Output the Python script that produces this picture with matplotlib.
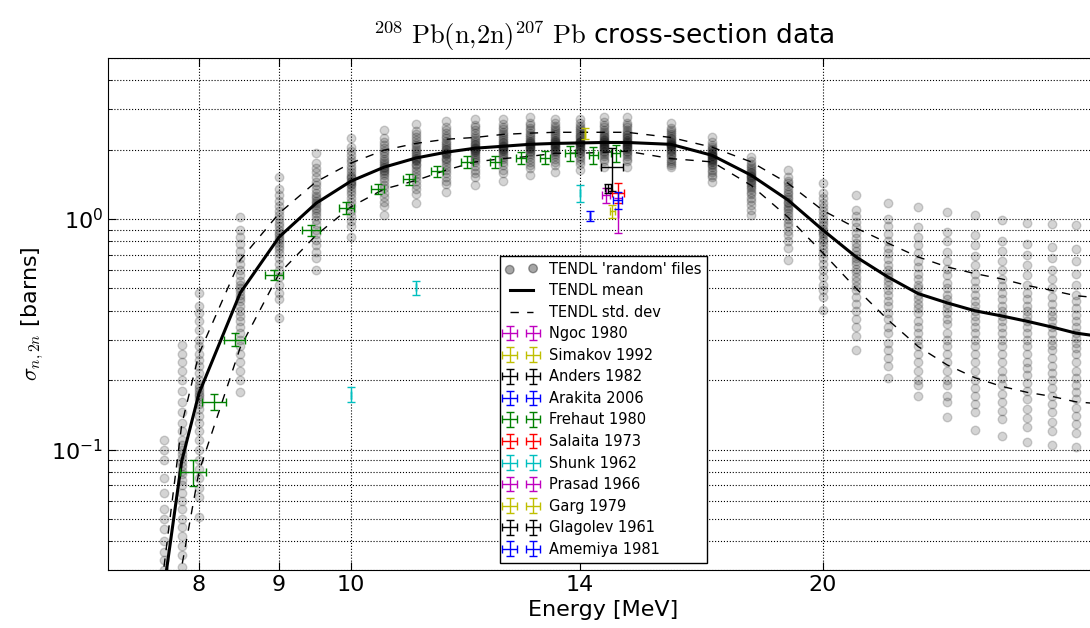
import numpy as np
import matplotlib
matplotlib.use('Agg')
import matplotlib.pyplot as plt
from matplotlib.ticker import FixedLocator, NullLocator, NullFormatter, FixedFormatter

plt.rcParams['mathtext.fontset'] = 'cm'
plt.rcParams['axes.unicode_minus'] = False

# TENDL energy grid (MeV)
energies = [7.6, 7.8, 8.0, 8.5, 9.0, 9.5, 10.0, 10.5, 11.0, 11.5, 12.0, 12.5,
            13.0, 13.5, 14.0, 14.5, 15.0, 16.0, 17.0, 18.0, 19.0, 20.0, 21.0,
            22.0, 23.0, 24.0, 25.0, 26.0, 27.0, 28.0, 29.0, 30.0]

# TENDL mean and mean +/- std. dev (barns)
tendl_mean = [0.025, 0.089, 0.175, 0.478, 0.836, 1.17, 1.46, 1.68, 1.84, 1.95,
              2.03, 2.07, 2.11, 2.13, 2.14, 2.15, 2.15, 2.11, 1.89, 1.55, 1.21,
              0.896, 0.685, 0.561, 0.475, 0.433, 0.40, 0.38, 0.36, 0.34, 0.32, 0.31]
tendl_upper = [0.031, 0.128, 0.26, 0.665, 1.06, 1.45, 1.75, 1.99, 2.13, 2.22,
               2.26, 2.33, 2.36, 2.38, 2.38, 2.38, 2.38, 2.26, 2.05, 1.77, 1.43,
               1.09, 0.914, 0.787, 0.685, 0.62, 0.58, 0.55, 0.515, 0.49, 0.465, 0.455]
tendl_lower = [0.012, 0.031, 0.08, 0.277, 0.58, 0.85, 1.13, 1.35, 1.47, 1.63,
               1.77, 1.83, 1.87, 1.93, 1.93, 1.95, 1.97, 1.83, 1.77, 1.40, 1.02,
               0.713, 0.50, 0.366, 0.28, 0.233, 0.205, 0.188, 0.177, 0.17, 0.161, 0.158]

# TENDL 'random' files, values read per energy (barns)
tendl_random = [
    [0.11, 0.1, 0.09, 0.075, 0.065, 0.055, 0.05, 0.045, 0.04, 0.036, 0.033, 0.03, 0.028, 0.026, 0.024, 0.022, 0.02],
    [0.285, 0.26, 0.24, 0.22, 0.2, 0.18, 0.16, 0.145, 0.13, 0.12, 0.11, 0.105, 0.1, 0.096, 0.092, 0.088,
     0.085, 0.081, 0.078, 0.074, 0.07, 0.065, 0.06, 0.055, 0.05, 0.046, 0.042, 0.038, 0.035, 0.031, 0.028],
    [0.48, 0.42, 0.39, 0.36, 0.33, 0.3, 0.28, 0.26, 0.245, 0.23, 0.215, 0.2, 0.19, 0.185, 0.18, 0.175,
     0.17, 0.165, 0.158, 0.15, 0.14, 0.13, 0.12, 0.11, 0.1, 0.09, 0.082, 0.075, 0.068, 0.062, 0.051],
    [1.02, 0.9, 0.84, 0.78, 0.73, 0.68, 0.64, 0.6, 0.57, 0.54, 0.52, 0.5, 0.485, 0.47, 0.455, 0.44,
     0.42, 0.4, 0.38, 0.36, 0.34, 0.32, 0.3, 0.28, 0.26, 0.24, 0.22, 0.2, 0.177],
    [1.52, 1.35, 1.27, 1.2, 1.14, 1.08, 1.04, 1.0, 0.96, 0.93, 0.9, 0.87, 0.85, 0.83, 0.81, 0.79,
     0.765, 0.74, 0.71, 0.68, 0.64, 0.6, 0.56, 0.52, 0.48, 0.45, 0.373],
    [1.93, 1.75, 1.67, 1.6, 1.52, 1.45, 1.4, 1.35, 1.3, 1.26, 1.23, 1.2, 1.17, 1.15, 1.12, 1.1,
     1.06, 1.03, 0.99, 0.95, 0.9, 0.86, 0.81, 0.77, 0.72, 0.68, 0.60],
    [2.24, 2.05, 1.97, 1.9, 1.83, 1.76, 1.7, 1.65, 1.6, 1.56, 1.53, 1.5, 1.47, 1.45, 1.42, 1.4,
     1.36, 1.33, 1.28, 1.24, 1.19, 1.14, 1.08, 1.03, 0.98, 0.93, 0.836],
    [2.43, 2.25, 2.17, 2.1, 2.04, 1.98, 1.93, 1.88, 1.83, 1.79, 1.75, 1.72, 1.69, 1.67, 1.64, 1.62,
     1.58, 1.55, 1.5, 1.46, 1.41, 1.36, 1.3, 1.25, 1.19, 1.14, 1.04],
    [2.58, 2.42, 2.34, 2.27, 2.2, 2.14, 2.09, 2.04, 1.99, 1.95, 1.91, 1.88, 1.85, 1.83, 1.8, 1.78,
     1.74, 1.71, 1.66, 1.62, 1.57, 1.52, 1.46, 1.41, 1.35, 1.29, 1.18],
    [2.66, 2.5, 2.43, 2.36, 2.3, 2.24, 2.19, 2.14, 2.1, 2.06, 2.02, 1.99, 1.96, 1.94, 1.91, 1.89,
     1.85, 1.82, 1.78, 1.74, 1.69, 1.64, 1.58, 1.53, 1.47, 1.42, 1.31],
    [2.73, 2.57, 2.5, 2.43, 2.36, 2.3, 2.25, 2.2, 2.16, 2.12, 2.09, 2.06, 2.04, 2.02, 2.0, 1.98,
     1.95, 1.92, 1.88, 1.84, 1.8, 1.76, 1.7, 1.64, 1.58, 1.52, 1.40],
    [2.73, 2.58, 2.51, 2.45, 2.39, 2.34, 2.29, 2.24, 2.2, 2.16, 2.13, 2.1, 2.08, 2.06, 2.04, 2.02,
     2.0, 1.97, 1.94, 1.9, 1.86, 1.82, 1.76, 1.71, 1.64, 1.58, 1.46],
    [2.76, 2.62, 2.55, 2.49, 2.43, 2.37, 2.32, 2.27, 2.23, 2.19, 2.16, 2.14, 2.12, 2.1, 2.08, 2.06,
     2.04, 2.01, 1.98, 1.95, 1.91, 1.87, 1.82, 1.77, 1.71, 1.66, 1.55],
    [2.73, 2.6, 2.54, 2.48, 2.43, 2.38, 2.33, 2.29, 2.25, 2.21, 2.18, 2.16, 2.14, 2.12, 2.1, 2.08,
     2.06, 2.03, 2.0, 1.98, 1.95, 1.92, 1.87, 1.83, 1.77, 1.72, 1.60],
    [2.73, 2.6, 2.54, 2.49, 2.44, 2.39, 2.34, 2.3, 2.26, 2.22, 2.19, 2.17, 2.15, 2.13, 2.11, 2.09,
     2.07, 2.04, 2.01, 1.99, 1.96, 1.93, 1.88, 1.84, 1.79, 1.74, 1.63],
    [2.76, 2.63, 2.56, 2.5, 2.44, 2.39, 2.34, 2.3, 2.26, 2.23, 2.2, 2.18, 2.16, 2.14, 2.12, 2.1,
     2.08, 2.06, 2.03, 2.01, 1.98, 1.95, 1.91, 1.87, 1.82, 1.78, 1.68],
    [2.76, 2.62, 2.56, 2.5, 2.44, 2.39, 2.35, 2.31, 2.27, 2.24, 2.21, 2.18, 2.16, 2.14, 2.12, 2.1,
     2.08, 2.06, 2.03, 2.01, 1.98, 1.96, 1.92, 1.88, 1.83, 1.78, 1.68],
    [2.6, 2.48, 2.43, 2.38, 2.33, 2.29, 2.25, 2.22, 2.19, 2.16, 2.14, 2.12, 2.1, 2.09, 2.07, 2.05,
     2.02, 2.0, 1.97, 1.94, 1.9, 1.87, 1.83, 1.79, 1.75, 1.72, 1.68],
    [2.26, 2.15, 2.1, 2.06, 2.02, 1.99, 1.96, 1.94, 1.92, 1.9, 1.88, 1.87, 1.85, 1.83, 1.81, 1.79,
     1.76, 1.74, 1.71, 1.68, 1.64, 1.6, 1.56, 1.52, 1.45],
    [1.86, 1.78, 1.74, 1.7, 1.66, 1.63, 1.6, 1.58, 1.56, 1.54, 1.52, 1.5, 1.48, 1.46, 1.43, 1.41,
     1.38, 1.35, 1.31, 1.28, 1.24, 1.2, 1.15, 1.1, 1.04],
    [1.63, 1.52, 1.47, 1.43, 1.39, 1.35, 1.31, 1.28, 1.25, 1.22, 1.19, 1.17, 1.14, 1.12, 1.09, 1.06,
     1.03, 1.0, 0.96, 0.93, 0.89, 0.85, 0.8, 0.75, 0.665],
    [1.43, 1.3, 1.24, 1.18, 1.13, 1.08, 1.04, 1.0, 0.97, 0.94, 0.91, 0.89, 0.87, 0.85, 0.82, 0.8,
     0.77, 0.74, 0.71, 0.68, 0.64, 0.6, 0.56, 0.52, 0.49, 0.46, 0.404],
    [1.27, 1.1, 1.03, 0.97, 0.92, 0.87, 0.83, 0.79, 0.76, 0.73, 0.7, 0.68, 0.66, 0.64, 0.61, 0.59,
     0.56, 0.54, 0.51, 0.49, 0.46, 0.43, 0.4, 0.37, 0.34, 0.31, 0.271],
    [1.17, 1.0, 0.93, 0.86, 0.8, 0.75, 0.71, 0.67, 0.63, 0.6, 0.58, 0.56, 0.54, 0.52, 0.49, 0.47,
     0.44, 0.42, 0.39, 0.37, 0.34, 0.32, 0.29, 0.27, 0.25, 0.23, 0.205],
    [1.13, 0.92, 0.84, 0.77, 0.71, 0.66, 0.62, 0.58, 0.55, 0.52, 0.5, 0.47, 0.45, 0.43, 0.41, 0.39,
     0.36, 0.34, 0.32, 0.3, 0.28, 0.26, 0.24, 0.22, 0.2, 0.19, 0.17],
    [1.07, 0.88, 0.8, 0.72, 0.66, 0.61, 0.57, 0.53, 0.5, 0.47, 0.45, 0.43, 0.41, 0.39, 0.37, 0.35,
     0.32, 0.3, 0.28, 0.26, 0.24, 0.22, 0.2, 0.19, 0.17, 0.16, 0.139],
    [1.04, 0.85, 0.77, 0.69, 0.63, 0.58, 0.54, 0.5, 0.47, 0.44, 0.42, 0.4, 0.38, 0.36, 0.34, 0.32,
     0.3, 0.28, 0.26, 0.24, 0.22, 0.2, 0.185, 0.17, 0.157, 0.145, 0.122],
    [0.99, 0.8, 0.73, 0.66, 0.6, 0.55, 0.51, 0.48, 0.45, 0.42, 0.4, 0.38, 0.36, 0.34, 0.32, 0.3,
     0.28, 0.26, 0.24, 0.22, 0.205, 0.19, 0.175, 0.16, 0.147, 0.135, 0.114],
    [0.96, 0.78, 0.7, 0.63, 0.57, 0.52, 0.48, 0.45, 0.42, 0.4, 0.38, 0.36, 0.34, 0.32, 0.3, 0.28,
     0.26, 0.24, 0.225, 0.21, 0.195, 0.18, 0.165, 0.15, 0.137, 0.125, 0.108],
    [0.95, 0.76, 0.68, 0.6, 0.55, 0.5, 0.46, 0.43, 0.4, 0.38, 0.36, 0.34, 0.32, 0.3, 0.285, 0.27,
     0.25, 0.23, 0.215, 0.2, 0.185, 0.17, 0.157, 0.145, 0.132, 0.12, 0.105],
    [0.94, 0.74, 0.66, 0.58, 0.52, 0.47, 0.44, 0.41, 0.385, 0.36, 0.34, 0.32, 0.305, 0.29, 0.275, 0.26,
     0.24, 0.22, 0.205, 0.19, 0.178, 0.165, 0.152, 0.14, 0.129, 0.118, 0.103],
    [0.93, 0.72, 0.64, 0.57, 0.51, 0.46, 0.43, 0.4, 0.375, 0.35, 0.33, 0.31, 0.295, 0.28, 0.265, 0.25,
     0.23, 0.21, 0.197, 0.185, 0.172, 0.16, 0.148, 0.136, 0.125, 0.115, 0.10],
]

# experimental data: energy, energy error, cross-section, cross-section error
ngoc_e, ngoc_de, ngoc_xs, ngoc_dxs = [14.55], [0.08], [1.27], [0.1]
simakov_e, simakov_de, simakov_xs, simakov_dxs = [14.1], [0.0], [2.35], [0.13]
anders_e, anders_de, anders_xs, anders_dxs = [14.59], [0.07], [1.36], [0.065]
arakita_e, arakita_de, arakita_xs, arakita_dxs = [14.2], [0.0], [1.03], [0.05]
frehaut_e = [7.93, 8.18, 8.43, 8.93, 9.43, 9.93, 10.4, 10.89, 11.35, 11.86,
             12.36, 12.84, 13.3, 13.8, 14.28, 14.75]
frehaut_de = [0.15, 0.14, 0.135, 0.12, 0.12, 0.11, 0.1, 0.1, 0.1, 0.1,
              0.1, 0.1, 0.1, 0.1, 0.1, 0.1]
frehaut_xs = [0.0796, 0.161, 0.30, 0.573, 0.896, 1.12, 1.35, 1.49, 1.61, 1.77,
              1.77, 1.85, 1.85, 1.93, 1.89, 1.93]
frehaut_dxs = [0.01, 0.013, 0.02, 0.03, 0.05, 0.07, 0.07, 0.08, 0.09, 0.1,
               0.1, 0.11, 0.12, 0.14, 0.16, 0.16]
salaita_e, salaita_de, salaita_xs, salaita_dxs = [14.81], [0.13], [1.30], [0.13]
shunk_e = [10.0, 11.0, 14.0]
shunk_de = [0.0, 0.0, 0.0]
shunk_xs = [0.173, 0.505, 1.30]
shunk_dxs = [0.013, 0.035, 0.11]
prasad_e, prasad_de, prasad_xs, prasad_dxs = [14.8], [0.0], [1.05], [0.18]
garg_e, garg_de, garg_xs, garg_dxs = [14.68], [0.05], [1.08], [0.07]
glagolev_e, glagolev_de, glagolev_xs, glagolev_dxs = [14.68], [0.24], [1.68], [0.36]
amemiya_e, amemiya_de, amemiya_xs, amemiya_dxs = [14.8], [0.1], [1.21], [0.1]

fig = plt.figure(figsize=(10.9, 6.28), dpi=100)
ax = fig.add_axes([108/1090, 58/628, 991/1090, 512/628])

# random files as faint circles
rx = []
ry = []
for e, vals in zip(energies, tendl_random):
    rx += [e] * len(vals)
    ry += vals
ax.scatter(rx, ry, s=38, c='k', alpha=0.17, lw=1, label="TENDL 'random' files", zorder=2)

ax.plot(energies, tendl_mean, 'k-', lw=2.2, label='TENDL mean', zorder=3)
ax.plot(energies, tendl_upper, 'k--', lw=1, dashes=(6, 6), label='TENDL std. dev', zorder=3)
ax.plot(energies, tendl_lower, 'k--', lw=1, dashes=(6, 6), zorder=3)

experiments = [
    ('Ngoc 1980', 'm', ngoc_e, ngoc_de, ngoc_xs, ngoc_dxs),
    ('Simakov 1992', 'y', simakov_e, simakov_de, simakov_xs, simakov_dxs),
    ('Anders 1982', 'k', anders_e, anders_de, anders_xs, anders_dxs),
    ('Arakita 2006', 'b', arakita_e, arakita_de, arakita_xs, arakita_dxs),
    ('Frehaut 1980', 'g', frehaut_e, frehaut_de, frehaut_xs, frehaut_dxs),
    ('Salaita 1973', 'r', salaita_e, salaita_de, salaita_xs, salaita_dxs),
    ('Shunk 1962', 'c', shunk_e, shunk_de, shunk_xs, shunk_dxs),
    ('Prasad 1966', 'm', prasad_e, prasad_de, prasad_xs, prasad_dxs),
    ('Garg 1979', 'y', garg_e, garg_de, garg_xs, garg_dxs),
    ('Glagolev 1961', 'k', glagolev_e, glagolev_de, glagolev_xs, glagolev_dxs),
    ('Amemiya 1981', 'b', amemiya_e, amemiya_de, amemiya_xs, amemiya_dxs),
]
for name, col, e, de, xs, dxs in experiments:
    ax.errorbar(e, xs, xerr=de, yerr=dxs, fmt='none', ecolor=col, elinewidth=1,
                capsize=3, capthick=1, label=name, zorder=4)

ax.set_xscale('log')
ax.set_yscale('log')
ax.set_xlim(7, 30)
ax.set_ylim(0.03, 5)

ax.xaxis.set_major_locator(FixedLocator([8, 9, 10, 14, 20]))
ax.xaxis.set_major_formatter(FixedFormatter(['8', '9', '10', '14', '20']))
ax.xaxis.set_minor_locator(NullLocator())
ax.yaxis.set_minor_formatter(NullFormatter())
ax.tick_params(which='both', direction='in', top=True, right=True, labelsize=16)
ax.tick_params(which='major', length=6)
ax.tick_params(which='minor', length=3)

ax.grid(True, which='major', ls=':', color='k', lw=0.8)
ax.yaxis.grid(True, which='minor', ls=':', color='k', lw=0.8)

ax.set_xlabel('Energy [MeV]', fontsize=16)
ax.set_ylabel(r'$\sigma_{n,2n}$ [barns]', fontsize=16)
ax.set_title(r'$^{208}\ \mathrm{Pb(n{,}2n)}^{207}\ \mathrm{Pb}$ cross-section data', fontsize=19, pad=10)

leg = ax.legend(loc='lower center', numpoints=2, scatterpoints=2, fontsize=10.5,
                fancybox=False, framealpha=1, edgecolor='k', labelspacing=0.45,
                handlelength=2.2, borderpad=0.4)
leg.get_frame().set_linewidth(1)
leg.legend_handles[0].set_alpha(0.35)

plt.savefig('out.png', dpi=100)
